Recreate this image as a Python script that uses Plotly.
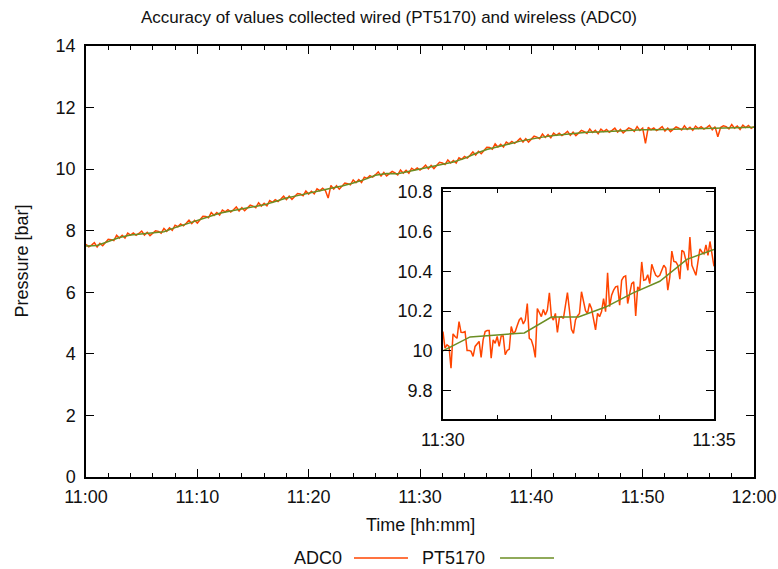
import numpy as np
import pandas as pd
import plotly.graph_objects as go

# ---------------- data ----------------
# PT5170 (wired) main series, one value per minute 11:00 .. 12:00
pt5170 = [7.50, 7.52, 7.65, 7.78, 7.86, 7.90, 7.92, 7.97, 8.10, 8.22,
          8.33, 8.46, 8.57, 8.64, 8.71, 8.77, 8.84, 8.95, 9.06, 9.14,
          9.21, 9.30, 9.38, 9.45, 9.55, 9.66, 9.80, 9.86, 9.85, 9.93,
          10.00, 10.08, 10.17, 10.23, 10.35, 10.51, 10.64, 10.74, 10.82, 10.91,
          10.98, 11.04, 11.09, 11.13, 11.17, 11.20, 11.21, 11.23, 11.25, 11.27,
          11.28, 11.28, 11.29, 11.30, 11.31, 11.32, 11.33, 11.34, 11.35, 11.35,
          11.36]

# ADC0 (wireless) main series, one value per 15 s, 11:00 .. 12:00
adc0 = [7.56, 7.48, 7.53, 7.61,
        7.47, 7.59, 7.51, 7.63,
        7.72, 7.71, 7.68, 7.85,
        7.76, 7.85, 7.76, 7.92,
        7.86, 7.93, 7.85, 7.91,
        7.99, 7.86, 7.95, 7.84,
        7.93, 8.00, 7.98, 7.92,
        8.07, 7.98, 8.09, 8.01,
        8.18, 8.13, 8.22, 8.16,
        8.24, 8.34, 8.23, 8.34,
        8.25, 8.37, 8.47, 8.46,
        8.42, 8.59, 8.50, 8.59,
        8.51, 8.67, 8.61, 8.68,
        8.61, 8.68, 8.77, 8.64,
        8.75, 8.65, 8.75, 8.83,
        8.80, 8.75, 8.91, 8.80,
        8.89, 8.81, 8.98, 8.92,
        9.01, 8.95, 9.03, 9.12,
        9.01, 9.12, 9.02, 9.13,
        9.21, 9.19, 9.14, 9.29,
        9.19, 9.28, 9.20, 9.36,
        9.30, 9.38, 9.31, 9.06,
        9.47, 9.35, 9.46, 9.35,
        9.46, 9.55, 9.53, 9.49,
        9.65, 9.56, 9.66, 9.57,
        9.74, 9.70, 9.79, 9.74,
        9.82, 9.91, 9.78, 9.89,
        9.78, 9.87, 9.93, 9.88,
        9.81, 9.97, 9.87, 9.96,
        9.87, 10.03, 9.97, 10.04,
        9.97, 10.04, 10.13, 10.01,
        10.12, 10.02, 10.14, 10.22,
        10.20, 10.15, 10.30, 10.20,
        10.28, 10.20, 10.37, 10.32,
        10.41, 10.36, 10.45, 10.56,
        10.46, 10.58, 10.50, 10.62,
        10.71, 10.70, 10.65, 10.82,
        10.72, 10.81, 10.72, 10.88,
        10.82, 10.90, 10.84, 10.91,
        11.00, 10.88, 10.99, 10.88,
        10.99, 11.07, 11.04, 10.99,
        11.14, 11.03, 11.12, 11.02,
        11.17, 11.10, 11.17, 11.09,
        11.15, 11.23, 11.10, 11.20,
        11.09, 11.19, 11.26, 11.22,
        11.16, 11.30, 11.19, 11.26,
        11.15, 11.30, 11.22, 11.29,
        11.20, 11.26, 11.33, 11.20,
        11.29, 11.18, 11.27, 11.34,
        11.30, 11.23, 11.38, 11.26,
        11.33, 10.84, 11.36, 11.28,
        11.34, 11.25, 11.31, 11.38,
        11.24, 11.33, 11.22, 11.31,
        11.37, 11.33, 11.27, 11.41,
        11.29, 11.36, 11.26, 11.40,
        11.32, 11.38, 11.30, 11.35,
        11.42, 11.28, 11.38, 11.05,
        11.35, 11.41, 11.38, 11.31,
        11.45, 11.33, 11.40, 11.29,
        11.43, 11.35, 11.42, 11.33,
        11.38]

# Zoomed window 11:30 .. 11:35
pt5170_zoom = [10.00, 10.07, 10.08, 10.09, 10.17, 10.17, 10.22, 10.29, 10.35, 10.46, 10.51]
adc0_zoom = [10.097, 10.013, 10.03, 10.022, 9.913, 10.085, 10.072, 10.063, 10.147, 10.093,
             10.092, 10.097, 10.002, 10.002, 9.997, 9.972, 10.022, 10.038, 10.047, 9.967,
             10.055, 10.097, 10.102, 10.102, 9.963, 10.055, 10.038, 10.072, 10.022, 10.075,
             10.075, 9.98, 10.002, 10.008, 10.122, 10.088, 10.097, 10.127, 10.155, 10.167,
             10.135, 10.155, 10.238, 10.063, 10.055, 10.022, 9.967, 10.213, 10.188, 10.172,
             10.208, 10.18, 10.205, 10.292, 10.172, 10.155, 10.188, 10.092, 10.168, 10.172,
             10.163, 10.222, 10.293, 10.205, 10.108, 10.088, 10.155, 10.175, 10.188, 10.297,
             10.255, 10.202, 10.188, 10.238, 10.213, 10.155, 10.105, 10.188, 10.172, 10.197,
             10.263, 10.197, 10.393, 10.222, 10.28, 10.305, 10.322, 10.325, 10.23, 10.355,
             10.372, 10.377, 10.238, 10.288, 10.338, 10.347, 10.175, 10.322, 10.305, 10.447,
             10.355, 10.358, 10.383, 10.338, 10.435, 10.405, 10.38, 10.372, 10.38, 10.405,
             10.43, 10.417, 10.305, 10.372, 10.502, 10.45, 10.447, 10.43, 10.36, 10.505,
             10.497, 10.455, 10.405, 10.572, 10.43, 10.405, 10.38, 10.447, 10.513, 10.497,
             10.488, 10.533, 10.48, 10.55, 10.497, 10.425]

title_text = "Accuracy of values collected wired (PT5170) and wireless (ADC0)"
x_title = "Time [hh:mm]"
y_title = "Pressure [bar]"

# ---------------- time axes ----------------
day = "2024-01-01 "
t_pt = pd.date_range(day + "11:00:00", periods=len(pt5170), freq="60s")
t_adc = pd.date_range(day + "11:00:00", periods=len(adc0), freq="15s")
t_pt_zoom = pd.date_range(day + "11:30:00", periods=len(pt5170_zoom), freq="30s")
t0z = pd.Timestamp(day + "11:30:00")
t_adc_zoom = [t0z + pd.Timedelta(seconds=float(s)) for s in np.linspace(0, 300, len(adc0_zoom))]

ORANGE = "#ff4500"
GREEN = "#6b8e23"
FONT = "Liberation Sans, Arial, Helvetica, sans-serif"
TXT = "#111"

fig = go.Figure()
fig.add_trace(go.Scatter(x=t_adc, y=adc0, mode="lines", name="ADC0",
                         line=dict(color=ORANGE, width=1.5), showlegend=False))
fig.add_trace(go.Scatter(x=t_pt, y=pt5170, mode="lines", name="PT5170",
                         line=dict(color=GREEN, width=1.5), showlegend=False))
fig.add_trace(go.Scatter(x=t_adc_zoom, y=adc0_zoom, mode="lines", name="ADC0",
                         line=dict(color=ORANGE, width=1.5), showlegend=False,
                         xaxis="x2", yaxis="y2"))
fig.add_trace(go.Scatter(x=t_pt_zoom, y=pt5170_zoom, mode="lines", name="PT5170",
                         line=dict(color=GREEN, width=1.5), showlegend=False,
                         xaxis="x2", yaxis="y2"))

axis_common = dict(showline=True, linecolor="black", linewidth=1.5, mirror="allticks",
                   ticks="inside", tickcolor="black", tickwidth=1, showgrid=False,
                   zeroline=False, automargin=False,
                   tickfont=dict(family=FONT, size=18, color=TXT))

fig.update_layout(
    width=778, height=569, autosize=False,
    margin=dict(l=86, r=24, t=46, b=92),
    paper_bgcolor="white", plot_bgcolor="white",
    font=dict(family=FONT, size=18, color=TXT),
    showlegend=False,
    xaxis=dict(axis_common, type="date",
               range=[day + "11:00:00", day + "12:00:00"],
               tick0=day + "11:00:00", dtick=600000, tickformat="%H:%M", ticklen=8,
               ticklabelstandoff=3,
               minor=dict(dtick=120000, ticks="inside", ticklen=4, tickcolor="black"),
               domain=[0, 1]),
    yaxis=dict(axis_common, range=[0, 14], dtick=2, ticklen=8, ticklabelstandoff=5,
               domain=[0, 1]),
    xaxis2=dict(axis_common, type="date", anchor="y2",
                range=[day + "11:30:00", day + "11:35:00"],
                tick0=day + "11:30:00", dtick=300000, tickformat="%H:%M", ticklen=8,
                ticklabelstandoff=4,
                minor=dict(dtick=60000, ticks="inside", ticklen=4, tickcolor="black"),
                domain=[0.5344, 0.9401]),
    yaxis2=dict(axis_common, anchor="x2", range=[9.657, 10.814], dtick=0.2, ticklen=8,
                ticklabelstandoff=5, domain=[0.1346, 0.6682]),
)

ann = []
ann.append(dict(text=title_text, xref="paper", yref="paper", x=0.4536, y=1.0650,
                xanchor="center", yanchor="middle", showarrow=False,
                font=dict(family=FONT, size=17, color=TXT)))
ann.append(dict(text=x_title, xref="paper", yref="paper", x=0.5, y=-0.1114,
                xanchor="center", yanchor="middle", showarrow=False,
                font=dict(family=FONT, size=18, color=TXT)))
ann.append(dict(text=y_title, xref="paper", yref="paper", x=-0.0973, y=0.5,
                xanchor="center", yanchor="middle", showarrow=False, textangle=-90,
                font=dict(family=FONT, size=18, color=TXT)))
# custom legend (text followed by line sample)
ann.append(dict(text="ADC0", xref="paper", yref="paper", x=0.3862, y=-0.1879,
                xanchor="right", yanchor="middle", showarrow=False,
                font=dict(family=FONT, size=18, color=TXT)))
ann.append(dict(text="PT5170", xref="paper", yref="paper", x=0.6003, y=-0.1879,
                xanchor="right", yanchor="middle", showarrow=False,
                font=dict(family=FONT, size=18, color=TXT)))
fig.update_layout(annotations=ann)
fig.add_shape(type="line", xref="paper", yref="paper", x0=0.4012, x1=0.4820,
              y0=-0.1879, y1=-0.1879, line=dict(color=ORANGE, width=1.5))
fig.add_shape(type="line", xref="paper", yref="paper", x0=0.6198, x1=0.7006,
              y0=-0.1879, y1=-0.1879, line=dict(color=GREEN, width=1.5))

fig.write_html("out.html")
